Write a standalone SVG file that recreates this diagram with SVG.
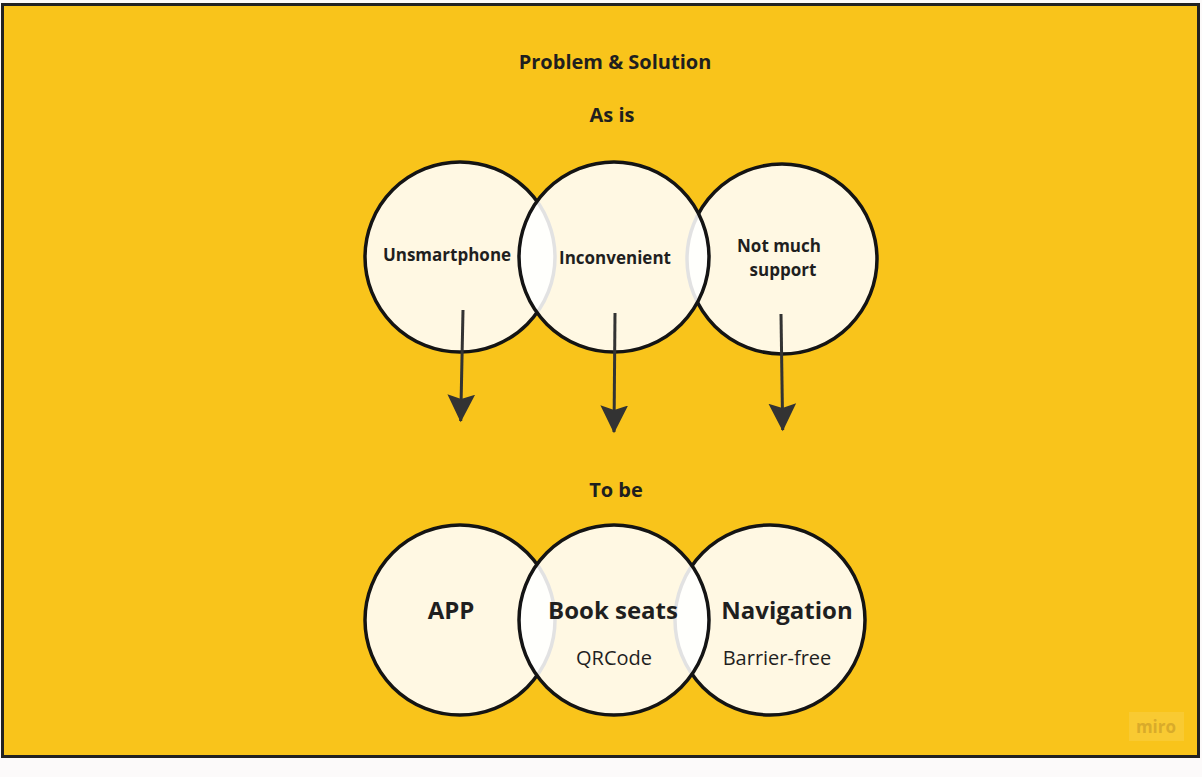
<svg xmlns="http://www.w3.org/2000/svg" width="1202" height="777" viewBox="0 0 1202 777">
<style>
.t{font-family:"Open Sans","Liberation Sans",sans-serif;fill:#1f1f1f;text-anchor:middle}
.b{font-weight:700}
.c{fill:#ffffff;fill-opacity:0.88;stroke:#141414;stroke-width:3.5}
.a{stroke:#333333;stroke-width:3;fill:none;marker-end:url(#ah)}
</style>
<defs>
<marker id="ah" markerUnits="userSpaceOnUse" markerWidth="30" markerHeight="30" viewBox="0 0 26 24" refX="23" refY="12" orient="auto">
<path d="M0,0 L24,12 L0,24 L4,12 Z" fill="#333333"/>
</marker>
</defs>
<rect x="0" y="0" width="1202" height="777" fill="#fcfafa"/>
<rect x="2.5" y="4.5" width="1196" height="752" fill="#f9c41b" stroke="#222222" stroke-width="3"/>
<g id="title">
<text class="t b" x="615" y="69" font-size="20">Problem &amp; Solution</text>
<text class="t b" x="612" y="122" font-size="20">As is</text>
<text class="t b" x="616" y="497" font-size="20">To be</text>
</g>
<g id="n-unsmartphone"><circle class="c" cx="460" cy="257" r="95"/><text class="t b" x="447" y="261" font-size="17">Unsmartphone</text></g>
<g id="n-notmuch"><circle class="c" cx="782" cy="259" r="95"/><text class="t b" x="779" y="252" font-size="17">Not much</text><text class="t b" x="783" y="276" font-size="17">support</text></g>
<g id="n-inconvenient"><circle class="c" cx="614" cy="257" r="95"/><text class="t b" x="615" y="264" font-size="17">Inconvenient</text></g>
<g id="n-app"><circle class="c" cx="460" cy="620" r="95"/><text class="t b" x="451" y="619" font-size="24">APP</text></g>
<g id="n-navigation"><circle class="c" cx="770" cy="620" r="95"/><text class="t b" x="787" y="619" font-size="24">Navigation</text><text class="t" x="777" y="665" font-size="20" fill="#333">Barrier-free</text></g>
<g id="n-bookseats"><circle class="c" cx="614" cy="620" r="95"/><text class="t b" x="613" y="619" font-size="24">Book seats</text><text class="t" x="614" y="665" font-size="20" fill="#333">QRCode</text></g>
<g id="connectors">
<line class="a" x1="463" y1="310" x2="460.7" y2="421"/>
<line class="a" x1="615" y1="313" x2="614" y2="432"/>
<line class="a" x1="781" y1="314" x2="782.7" y2="430"/>
</g>
<g id="watermark">
<rect x="1129" y="712" width="55" height="29" fill="#ffffff" fill-opacity="0.1"/>
<text x="1156" y="733" font-family="Open Sans, Liberation Sans, sans-serif" font-size="17" font-weight="700" fill="#d9ab2a" text-anchor="middle">miro</text>
</g>
</svg>
